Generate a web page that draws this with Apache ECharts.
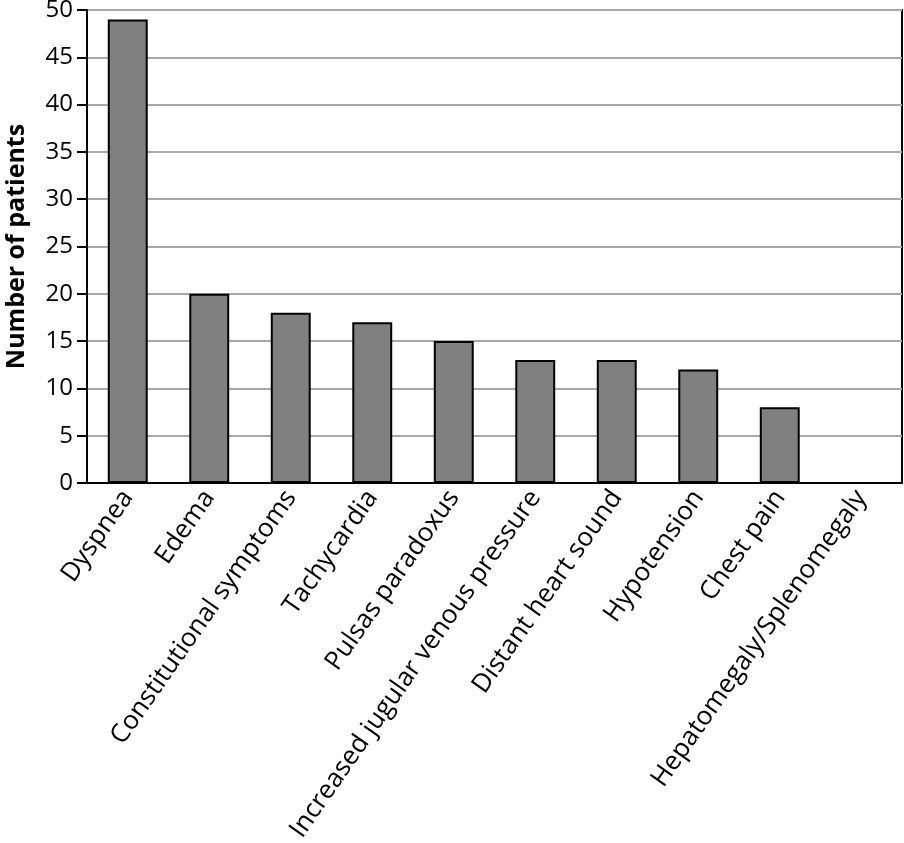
<!DOCTYPE html>
<html>
<head>
<meta charset="utf-8">
<script src="https://cdn.jsdelivr.net/npm/echarts@6/dist/echarts.min.js"></script>
<style>html,body{margin:0;padding:0;background:#fff}#c{width:904px;height:843px}</style>
</head>
<body>
<div id="c"></div>
<script>
const categories = ["Dyspnea","Edema","Constitutional symptoms","Tachycardia","Pulsas paradoxus","Increased jugular venous pressure","Distant heart sound","Hypotension","Chest pain","Hepatomegaly/Splenomegaly"];
const patients = [49, 20, 18, 17, 15, 13, 13, 12, 8, 0];
const yTicks = [0, 5, 10, 15, 20, 25, 30, 35, 40, 45, 50];

const chart = echarts.init(document.getElementById('c'), null, {renderer: 'canvas'});
const font = '"Open Sans", "Noto Sans", sans-serif';
chart.setOption({
  animation: false,
  backgroundColor: '#fff',
  grid: {left: 87, right: 2, top: 10, bottom: 360, show: true, borderColor: '#000', borderWidth: 2, outerBoundsMode: 'none', containLabel: false},
  xAxis: {
    type: 'category',
    data: categories,
    axisLine: {lineStyle: {color: '#000', width: 2}},
    axisTick: {show: false},
    axisLabel: {rotate: 55, color: '#000', fontSize: 26, fontFamily: font, margin: 10, interval: 0}
  },
  yAxis: {
    type: 'value',
    min: yTicks[0], max: yTicks[yTicks.length - 1], interval: 5,
    name: 'Number of patients',
    nameLocation: 'middle',
    nameGap: 58,
    nameTextStyle: {color: '#000', fontSize: 25, fontWeight: 'bold', fontFamily: font},
    axisLine: {show: true, lineStyle: {color: '#000', width: 2}},
    axisTick: {show: true, inside: false, length: 10, lineStyle: {color: '#000', width: 2}},
    axisLabel: {color: '#000', fontSize: 24, fontFamily: font, margin: 14},
    splitLine: {lineStyle: {color: '#a8a8a8', width: 2}}
  },
  series: [{
    type: 'bar',
    data: patients,
    barWidth: '49%',
    itemStyle: {color: '#808080', borderColor: '#000', borderWidth: 2}
  }]
});
</script>
</body>
</html>
